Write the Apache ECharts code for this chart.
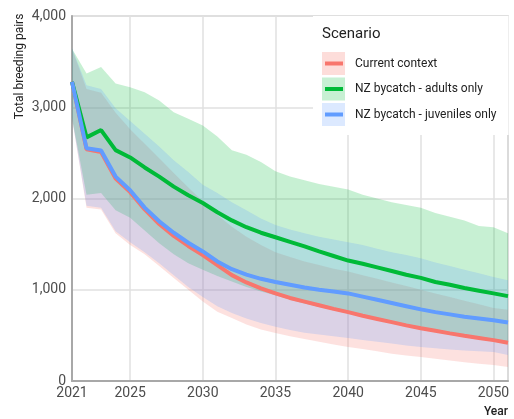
<!DOCTYPE html>
<html>
<head>
<meta charset="utf-8">
<script src="https://cdn.jsdelivr.net/npm/echarts@6/dist/echarts.min.js"></script>
<style>
  html, body { margin: 0; padding: 0; background: #fff; }
  #chart { width: 514px; height: 419px; }
</style>
</head>
<body>
<div id="chart"></div>
<script>
// years on the x axis
const years = ['2021','2022','2023','2024','2025','2026','2027','2028','2029','2030',
  '2031','2032','2033','2034','2035','2036','2037','2038','2039','2040',
  '2041','2042','2043','2044','2045','2046','2047','2048','2049','2050','2051'];
const xTickLabels = ['2021','2025','2030','2035','2040','2045','2050'];

const scenarioNames = ['Current context', 'NZ bycatch - adults only', 'NZ bycatch - juveniles only'];
const scenarioColors = ['#F8766D', '#00BA38', '#619CFF'];

// mean trajectories
const currentMean = [3280,2540,2510,2220,2070,1880,1720,1590,1480,1380,1270,1160,1080,1015,960,
  910,870,830,790,755,715,680,645,610,578,550,522,496,472,448,420];
const adultsMean = [3280,2670,2750,2530,2450,2340,2240,2130,2035,1950,1850,1760,1685,1625,1575,
  1525,1475,1420,1370,1320,1285,1245,1205,1165,1130,1085,1055,1020,990,960,930];
const juvenilesMean = [3280,2550,2525,2240,2090,1900,1750,1625,1515,1420,1310,1225,1165,1120,1085,
  1055,1025,1000,980,960,925,890,855,820,785,755,730,705,685,665,640];

// uncertainty ranges
const currentLower = [2880,1900,1880,1620,1490,1390,1260,1130,1000,870,760,690,620,565,525,
  490,460,430,400,372,350,325,300,280,263,245,225,205,190,175,153];
const currentUpper = [3640,3200,3160,2940,2760,2600,2440,2280,2120,1970,1820,1690,1580,1490,1410,
  1360,1310,1270,1230,1200,1160,1120,1080,1040,1000,960,920,880,840,800,780];
const adultsLower = [2880,2040,2060,1870,1790,1650,1510,1390,1290,1220,1150,1090,1030,980,940,
  890,850,810,780,750,715,680,645,610,580,550,520,495,470,450,420];
const adultsUpper = [3640,3370,3440,3260,3220,3165,3075,2945,2875,2800,2680,2530,2480,2400,2300,
  2240,2200,2160,2130,2100,2040,2000,1960,1930,1900,1840,1800,1760,1700,1685,1620];
const juvenilesLower = [2880,1920,1900,1640,1520,1410,1290,1160,1030,920,820,745,685,635,595,
  560,530,510,490,470,450,430,410,390,372,360,345,335,325,317,284];
const juvenilesUpper = [3650,3240,3200,2990,2850,2710,2570,2420,2290,2150,2060,1960,1870,1780,1710,
  1660,1620,1580,1550,1520,1490,1450,1410,1380,1345,1300,1260,1220,1180,1140,1105];

const means = [currentMean, adultsMean, juvenilesMean];
const lowers = [currentLower, adultsLower, juvenilesLower];
const uppers = [currentUpper, adultsUpper, juvenilesUpper];
const paleColors = ['rgba(248,118,109,0.25)', 'rgba(0,186,56,0.22)', 'rgba(97,156,255,0.22)'];

const font = 'Roboto';
const myChart = echarts.init(document.getElementById('chart'));

const series = [];
// ribbons: invisible lower line + stacked width with area
scenarioNames.forEach((name, i) => {
  series.push({
    name: name + ' range low',
    type: 'line',
    stack: 'band' + i,
    data: lowers[i],
    symbol: 'none',
    silent: true,
    lineStyle: { opacity: 0 }
  });
  series.push({
    name: name + ' range',
    type: 'line',
    stack: 'band' + i,
    data: uppers[i].map((u, k) => u - lowers[i][k]),
    symbol: 'none',
    silent: true,
    lineStyle: { opacity: 0 },
    areaStyle: { color: scenarioColors[i], opacity: 0.22 }
  });
});
// mean lines on top
scenarioNames.forEach((name, i) => {
  series.push({
    name: name,
    type: 'line',
    data: means[i],
    symbol: 'none',
    z: 3,
    itemStyle: { color: scenarioColors[i] },
    lineStyle: { color: scenarioColors[i], width: 4 }
  });
});

const option = {
  animation: false,
  title: {
    text: 'Scenario',
    left: 322,
    top: 27,
    padding: 0,
    z: 6,
    textStyle: { fontFamily: font, fontSize: 15, fontWeight: 'normal', color: '#222' }
  },
  legend: [
    {
      // pale squares + white box
      left: 313,
      top: 16,
      orient: 'vertical',
      padding: [36, 12, 9, 9],
      backgroundColor: '#fff',
      itemWidth: 23,
      itemHeight: 23,
      itemGap: 2.5,
      icon: 'rect',
      selectedMode: false,
      z: 4,
      data: scenarioNames.map((n, i) => ({ name: n, itemStyle: { color: paleColors[i] } })),
      textStyle: { fontFamily: font, fontSize: 12, lineHeight: 23, color: 'rgba(0,0,0,0)', padding: [0, 0, 0, 5] }
    },
    {
      // line keys with labels
      left: 313,
      top: 16,
      orient: 'vertical',
      padding: [36, 12, 9, 12],
      itemWidth: 18,
      itemHeight: 4,
      itemGap: 2.5,
      icon: 'rect',
      selectedMode: false,
      z: 5,
      data: scenarioNames.map((n, i) => ({ name: n, itemStyle: { color: scenarioColors[i] } })),
      textStyle: { fontFamily: font, fontSize: 12, lineHeight: 23, color: '#222', padding: [0, 0, 0, 7] }
    }
  ],
  grid: {
    left: 72,
    right: 6,
    top: 16,
    bottom: 38,
    show: true,
    borderColor: '#d0d0d0',
    borderWidth: 1.5
  },
  xAxis: {
    type: 'category',
    data: years,
    boundaryGap: false,
    name: 'Year',
    nameLocation: 'end',
    nameGap: 0,
    nameMoveOverlap: false,
    nameTextStyle: {
      fontFamily: font, fontSize: 12, color: '#222', fontWeight: 500,
      align: 'right', verticalAlign: 'top', padding: [25, 0, 0, 0]
    },
    axisLine: { lineStyle: { color: '#a8a8a8', width: 2 } },
    axisTick: { show: false },
    axisLabel: {
      interval: (idx, val) => xTickLabels.includes(val),
      fontFamily: font, fontSize: 14, color: '#4d4d4d', margin: 5
    },
    splitLine: {
      show: true,
      interval: (idx, val) => xTickLabels.includes(val) && val !== '2021',
      lineStyle: { color: '#e0e0e0', width: 1.5 }
    }
  },
  yAxis: {
    type: 'value',
    min: 0,
    max: 4000,
    interval: 1000,
    name: 'Total breeding pairs',
    nameLocation: 'middle',
    nameGap: 46,
    nameMoveOverlap: false,
    nameTextStyle: { fontFamily: font, fontSize: 12, color: '#222', padding: [0, 0, 0, 264] },
    axisLine: { show: true, lineStyle: { color: '#a8a8a8', width: 2 } },
    axisTick: { show: false },
    axisLabel: {
      fontFamily: font, fontSize: 14, color: '#4d4d4d', margin: 6,
      formatter: v => v.toLocaleString('en-US')
    },
    splitLine: { lineStyle: { color: '#e0e0e0', width: 1.5 } }
  },
  series: series
};

myChart.setOption(option);
window.addEventListener('resize', () => myChart.resize());
</script>
</body>
</html>
